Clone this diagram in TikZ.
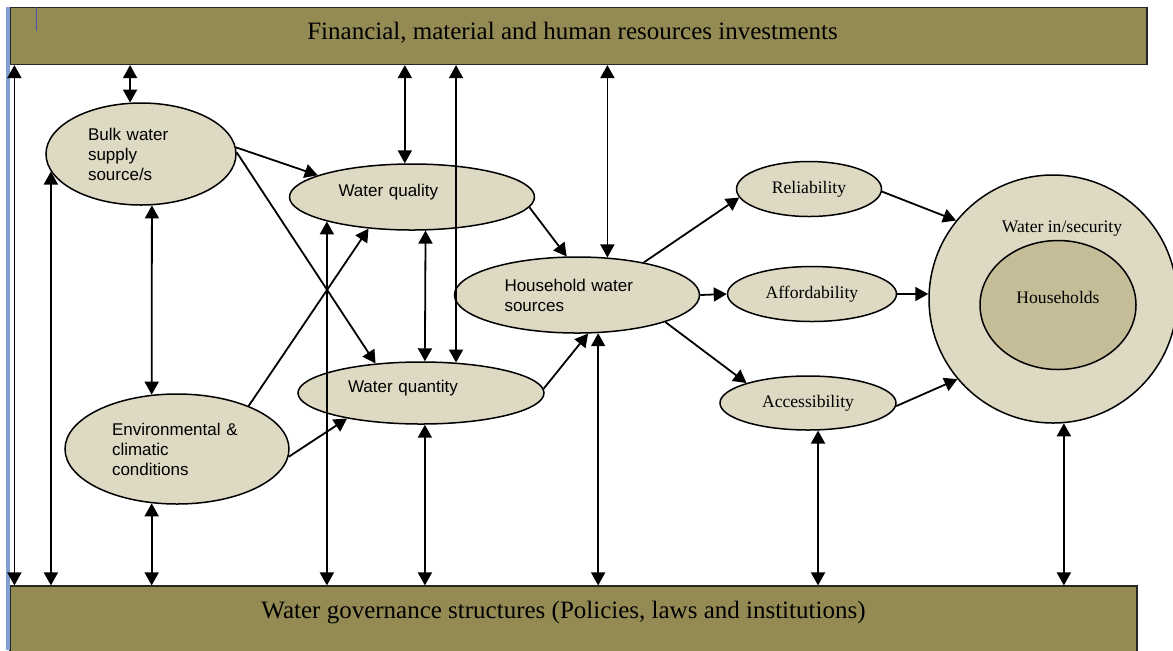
\documentclass[tikz,border=0pt]{standalone}
\usepackage{fontspec}
\setmainfont{Liberation Serif}
\newfontfamily\arialfont{Liberation Sans}
\usepackage{tikz}
\usetikzlibrary{arrows.meta,shapes.geometric}

\definecolor{barolive}{HTML}{948A54}
\definecolor{tanlight}{HTML}{DDD9C3}
\definecolor{tandark}{HTML}{C4BD97}
\definecolor{edgeblue}{HTML}{82A0D2}

\begin{document}
\begin{tikzpicture}[
    >={Triangle[length=6.5pt,width=7pt]},
    x=0.5pt, y=-0.5pt,
    bar/.style={draw=black!85,line width=0.6pt,fill=barolive,inner sep=0pt,
                text height=8.5pt,font=\fontsize{12.5}{15}\selectfont},
    factor/.style={ellipse,draw,line width=0.75pt,fill=tanlight,inner sep=0pt},
    sansfactor/.style={factor,align=left,font=\arialfont\fontsize{8.5}{10}\selectfont},
    serffactor/.style={factor,font=\fontsize{8.8}{10.5}\selectfont},
    link/.style={->,line width=0.9pt},
    mutual/.style={<->,line width=0.9pt},
  ]
  \path[use as bounding box,clip] (0,0) rectangle (1173,650);
  \fill[white] (0,0) rectangle (1173,650);

  % --- the two bars ---
  \node[bar,minimum width=568.5pt,minimum height=28.5pt,text depth=5.1pt]
    (invest) at (578.5,36) {\kern-6pt Financial, material and human resources investments};
  \node[bar,minimum width=563.5pt,minimum height=34.5pt,text depth=10.6pt]
    (govern) at (573.5,620.5) {\kern-10pt Water governance structures (Policies, laws and institutions)};
  \fill[edgeblue] (6,7) rectangle (10,650);
  \draw[blue!40!gray,line width=0.5pt] (36,7) -- (36,31);

  % --- supply side ---
  \node[sansfactor,minimum width=95pt,minimum height=51pt,text width=53pt]
    (bulk) at (141,154) {Bulk water\\supply\\source/s};
  \node[sansfactor,minimum width=112pt,minimum height=55pt,text width=65pt]
    (env) at (177,449) {Environmental \&\\climatic\\conditions};
  \node[sansfactor,minimum width=122.5pt,minimum height=33pt,text width=73.5pt,text depth=6.5pt]
    (quality) at (412,197) {Water quality};
  \node[sansfactor,minimum width=123pt,minimum height=31pt,text width=73pt,text depth=6.5pt]
    (quantity) at (421,393) {Water quantity};
  \node[sansfactor,minimum width=122.5pt,minimum height=38pt,text width=72.5pt]
    (house) at (577,295) {Household water\\sources};

  % --- access dimensions ---
  \node[serffactor,minimum width=72.5pt,minimum height=27.5pt] (rel) at (809,189) {Reliability};
  \node[serffactor,minimum width=84.5pt,minimum height=27.5pt] (aff) at (812,294) {Affordability};
  \node[serffactor,minimum width=88pt,minimum height=27pt]     (acc) at (808,403) {Accessibility};

  % --- outcome ---
  \node[factor,minimum width=124pt,minimum height=124pt] (sec) at (1053,299) {};
  \node[font=\fontsize{8.8}{10.5}\selectfont] (seclbl) at (1062,229) {Water in/security};
  \node[serffactor,fill=tandark,minimum width=78pt,minimum height=64.5pt,text depth=8pt]
    (hh) at (1058,305) {Households};

  % --- links to the bars ---
  \draw[mutual] ([xshift=2.5pt]invest.south west) -- ([xshift=2.5pt]govern.north west);
  \draw[mutual] (invest.south -| bulk.102) -- (bulk.102);
  \draw[mutual] (bulk.191) -- (bulk.191 |- govern.north);
  \draw[mutual] (bulk.282) -- (env.115);
  \draw[mutual] (env.245) -- (env.245 |- govern.north);
  \draw[mutual] (invest.south -| quality.102) -- (quality.102);
  \draw[mutual] (invest.south -| quantity.41) -- (quantity.41);
  \draw[mutual] (invest.south -| house.51) -- (house.51);
  \draw[mutual] (quality.196) -- (quality.196 |- govern.north);
  \draw[mutual] (quality.292) -- (quantity.83);
  \draw[mutual] (quantity.277) -- (quantity.277 |- govern.north);
  \draw[mutual] (house.299) -- (house.299 |- govern.north);
  \draw[mutual] (acc.290) -- (acc.290 |- govern.north);
  \draw[mutual] (sec.275) -- (sec.275 |- govern.north);

  % --- causal links ---
  \draw[link] (bulk.4) -- (quality.167);
  \draw[link] (bulk.1) -- (quantity.147);
  \draw[link] (env.31) -- (quality.216);
  \draw[link] (env.356) -- (quantity.199);
  \draw[link] (quality.355) -- (house.105);
  \draw[link] (quantity.2) -- (house.286);
  \draw[link] (house.26) -- (rel.187);
  \draw[link] (house.east) -- (aff.west);
  \draw[link] (house.343) -- (acc.162);
  \draw[link] (rel.358) -- (sec.141);
  \draw[link] (aff.east) -- (aff.east -| sec.west);
  \draw[link] (acc.358) -- (sec.220);

\end{tikzpicture}
\end{document}
